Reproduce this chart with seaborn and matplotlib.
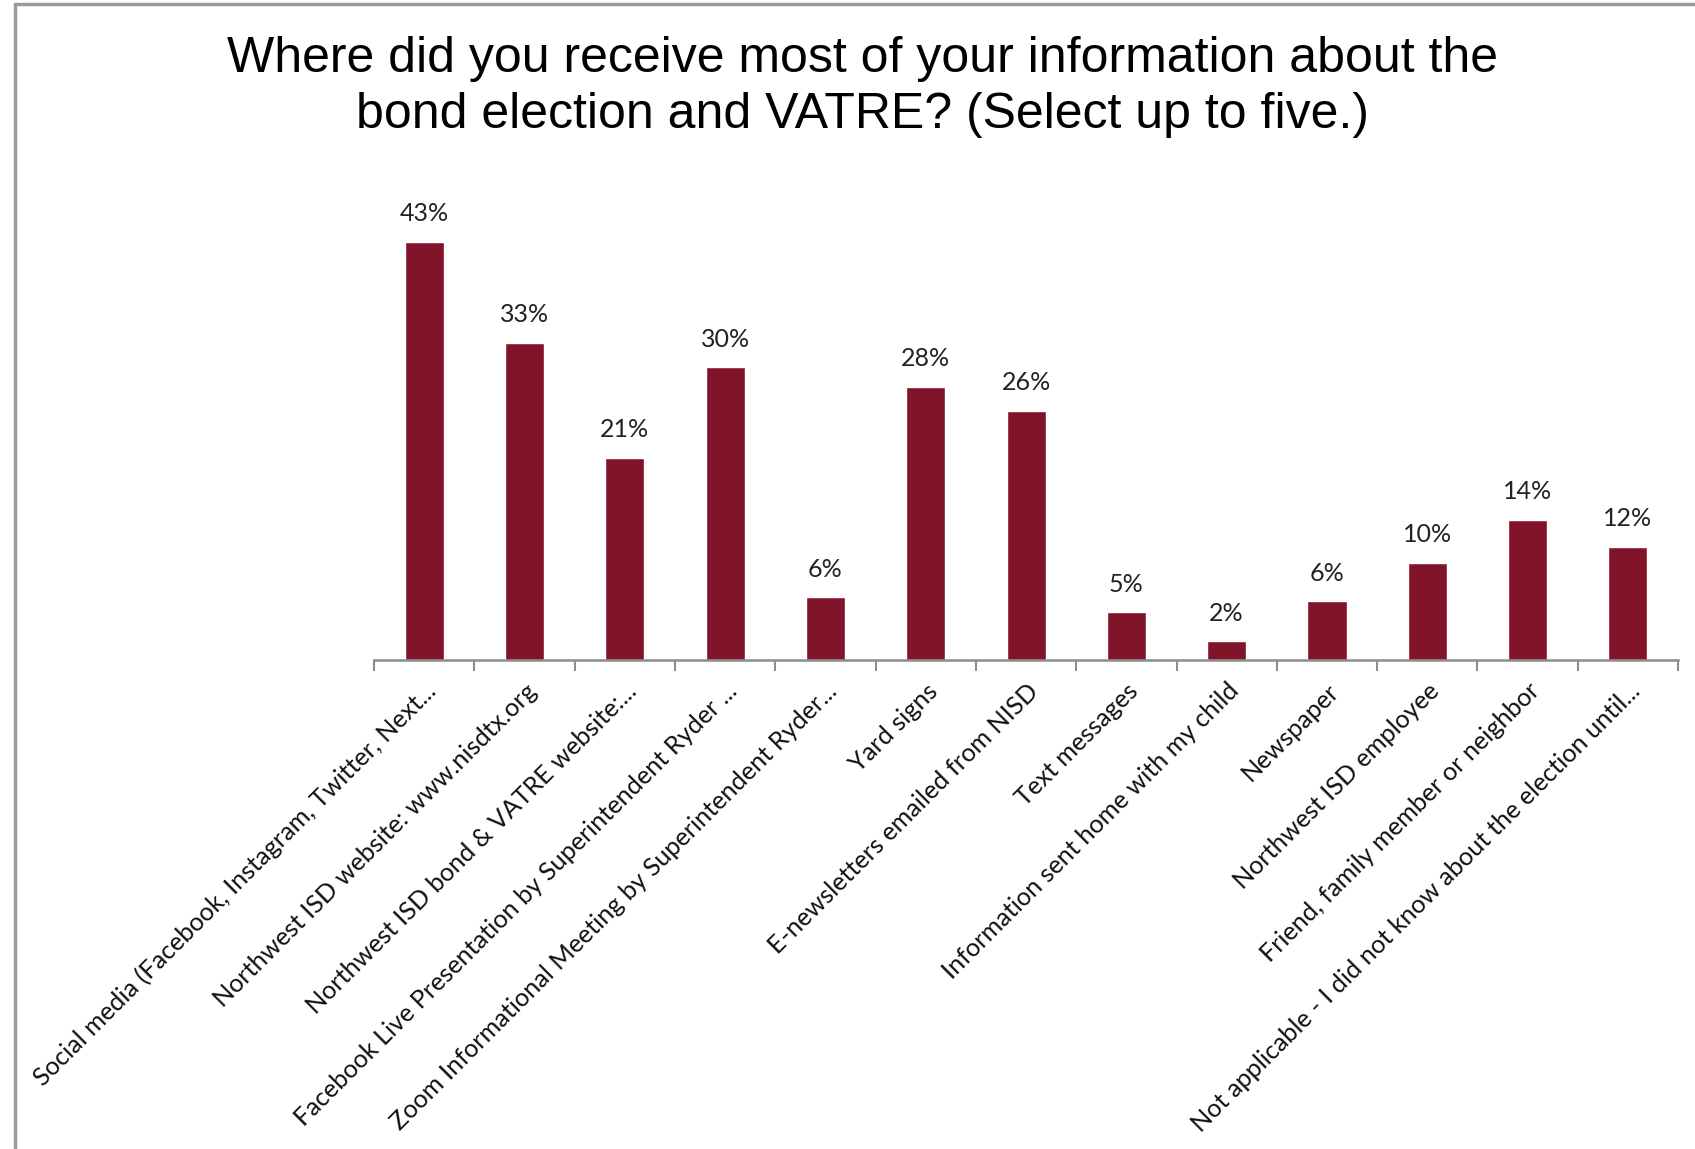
import matplotlib
matplotlib.use("Agg")
import matplotlib.pyplot as plt
import seaborn as sns
import pandas as pd
from matplotlib.lines import Line2D

# survey responses, share of respondents (%)
sources = [
    "Social media (Facebook, Instagram, Twitter, Next...",
    "Northwest ISD website: www.nisdtx.org",
    "Northwest ISD bond & VATRE website:...",
    "Facebook Live Presentation by Superintendent Ryder ...",
    "Zoom Informational Meeting by Superintendent Ryder...",
    "Yard signs",
    "E-newsletters emailed from NISD",
    "Text messages",
    "Information sent home with my child",
    "Newspaper",
    "Northwest ISD employee",
    "Friend, family member or neighbor",
    "Not applicable - I did not know about the election until...",
]
pct = [43.0, 32.6, 20.8, 30.1, 6.4, 28.1, 25.6, 4.9, 1.9, 6.0, 10.0, 14.4, 11.6]

df = pd.DataFrame({"source": sources, "pct": pct})

sns.set_theme(style="white")
plt.rcParams["font.family"] = ["Lato", "DejaVu Sans"]

fig = plt.figure(figsize=(16.95, 11.49), dpi=100)
ax = fig.add_axes([0.2207, 0.4259, 0.7693, 0.4227])

sns.barplot(data=df, x="source", y="pct", color="#82142A", width=0.39,
            saturation=1, ax=ax)
ax.set_ylim(0, 50)
ax.set_xlim(-0.5, len(sources) - 0.5)

# data labels
for i, v in enumerate(pct):
    ax.text(i, v + 1.7, f"{round(v)}%", ha="center", va="bottom",
            fontsize=18, color="#222222")

# axis styling
for s in ["top", "right", "left"]:
    ax.spines[s].set_visible(False)
ax.spines["bottom"].set_color("#8c8c8c")
ax.spines["bottom"].set_linewidth(1.8)
ax.set_yticks([])
ax.set_xlabel("")
ax.set_ylabel("")
ax.set_xticks(range(len(sources)))
ax.set_xticklabels(sources, rotation=45, ha="right", rotation_mode="anchor",
                   fontsize=18.2, color="#111111")
ax.set_xticks([i - 0.5 for i in range(len(sources) + 1)], minor=True)
ax.tick_params(axis="x", which="both", bottom=True)
ax.tick_params(axis="x", which="major", length=0, pad=14)
ax.tick_params(axis="x", which="minor", length=8, width=1.5,
               color="#8c8c8c", direction="out")

fig.text(0.5086, 0.969, "Where did you receive most of your information about the\n"
         "bond election and VATRE? (Select up to five.)",
         ha="center", va="top", fontsize=36, family="Liberation Sans",
         linespacing=1.3, color="black")

# frame (top and left edges visible)
fig.add_artist(Line2D([15 / 1695, 15 / 1695], [0, 1 - 4 / 1149],
                      transform=fig.transFigure, color="#9a9a9a", lw=2.5))
fig.add_artist(Line2D([15 / 1695, 1], [1 - 4 / 1149, 1 - 4 / 1149],
                      transform=fig.transFigure, color="#9a9a9a", lw=2.5))

fig.savefig("out.png", dpi=100, facecolor="white")
